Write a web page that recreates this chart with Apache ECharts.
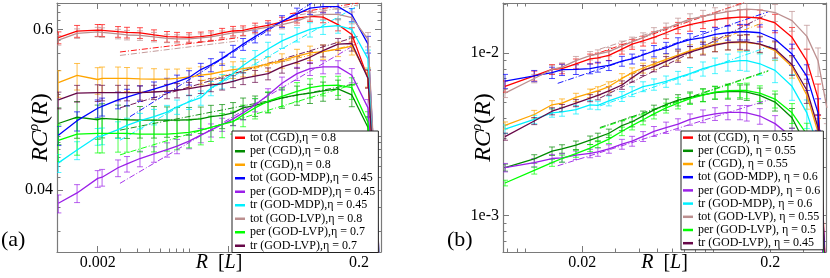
<!DOCTYPE html>
<html><head><meta charset="utf-8">
<script src="https://cdn.jsdelivr.net/npm/echarts@6/dist/echarts.min.js"></script>
<style>html,body{margin:0;padding:0;background:#fff}#c{width:830px;height:278px}</style>
</head><body><div id="c"></div>
<script>
// ---------------- Panel (a) ----------------
const X_A = [0.001,0.00139,0.002,0.00216,0.00286,0.00335,0.00421,0.00539,0.00678,0.00809,0.01,0.0123,0.0147,0.0179,0.0217,0.0259,0.032,0.0402,0.0514,0.067,0.0842,0.106,0.138,0.176,0.234,0.3];
const TOT_CGD_A = [0.523,0.583,0.592,0.591,0.577,0.570,0.566,0.546,0.531,0.528,0.525,0.531,0.542,0.565,0.584,0.589,0.617,0.643,0.681,0.726,0.746,0.737,0.650,0.551,0.263,0.005];
const PER_CGD_A = [0.123,0.137,0.131,0.134,0.132,0.131,0.130,0.130,0.130,0.130,0.131,0.133,0.138,0.141,0.147,0.160,0.167,0.177,0.189,0.199,0.205,0.213,0.220,0.199,0.115,0.005];
const TR_CGD_A  = [0.245,0.277,0.258,0.263,0.263,0.263,0.261,0.260,0.260,0.263,0.269,0.278,0.283,0.295,0.305,0.310,0.319,0.336,0.355,0.383,0.404,0.412,0.431,0.453,0.270,0.005];
const TOT_MDP_A = [0.101,0.129,0.159,0.164,0.183,0.192,0.205,0.219,0.235,0.248,0.267,0.305,0.330,0.368,0.417,0.468,0.531,0.606,0.687,0.780,0.857,0.880,0.880,0.767,0.468,0.005];
const PER_MDP_A = [0.0321,0.0382,0.0488,0.0498,0.0584,0.0624,0.0682,0.0736,0.0793,0.0840,0.0913,0.101,0.110,0.121,0.133,0.147,0.168,0.199,0.242,0.285,0.310,0.319,0.319,0.277,0.160,0.005];
const TR_MDP_A  = [0.0634,0.0787,0.0991,0.100,0.111,0.119,0.129,0.138,0.149,0.163,0.177,0.190,0.223,0.250,0.285,0.327,0.375,0.431,0.494,0.551,0.599,0.626,0.639,0.599,0.365,0.005];
const TOT_LVP_A = [0.500,0.560,0.575,0.570,0.556,0.546,0.542,0.528,0.516,0.512,0.512,0.520,0.528,0.546,0.565,0.575,0.599,0.624,0.650,0.690,0.754,0.773,0.773,0.731,0.508,0.005];
const PER_LVP_A = [0.0924,0.103,0.104,0.104,0.104,0.104,0.103,0.103,0.103,0.104,0.106,0.110,0.115,0.121,0.127,0.142,0.160,0.179,0.194,0.211,0.225,0.233,0.235,0.225,0.125,0.005];
const TR_LVP_A  = [0.183,0.205,0.207,0.207,0.207,0.207,0.207,0.209,0.212,0.215,0.221,0.229,0.236,0.240,0.250,0.263,0.273,0.285,0.319,0.346,0.375,0.419,0.468,0.473,0.263,0.005];
// relative error bars
const E_TOT_CGD_A = [0.10,0.10,0.10,0.10,0.09,0.09,0.09,0.09,0.09,0.08,0.08,0.08,0.08,0.08,0.08,0.08,0.08,0.08,0.08,0.08,0.08,0.09,0.10,0.12,0.15,0];
const E_PER_CGD_A = [0.30,0.30,0.28,0.28,0.27,0.27,0.26,0.26,0.25,0.24,0.23,0.22,0.21,0.20,0.19,0.18,0.17,0.17,0.16,0.16,0.16,0.16,0.16,0.18,0.20,0];
const E_TR_CGD_A  = [0.22,0.22,0.22,0.21,0.21,0.20,0.20,0.19,0.18,0.17,0.16,0.15,0.15,0.14,0.14,0.13,0.13,0.12,0.12,0.12,0.12,0.12,0.12,0.14,0.16,0];
const E_TOT_MDP_A = [0.16,0.16,0.15,0.15,0.14,0.14,0.13,0.13,0.12,0.12,0.12,0.11,0.11,0.11,0.10,0.10,0.10,0.10,0.10,0.10,0.10,0.10,0.10,0.11,0.14,0];
const E_PER_MDP_A = [0.15,0.15,0.14,0.14,0.14,0.13,0.13,0.13,0.12,0.12,0.12,0.12,0.11,0.11,0.11,0.11,0.11,0.11,0.11,0.11,0.11,0.11,0.11,0.12,0.15,0];
const E_TR_MDP_A  = [0.15,0.15,0.14,0.14,0.14,0.13,0.13,0.13,0.12,0.12,0.12,0.12,0.12,0.12,0.12,0.12,0.12,0.12,0.12,0.12,0.12,0.12,0.12,0.13,0.16,0];
const E_TOT_LVP_A = [0.08,0.08,0.08,0.08,0.08,0.08,0.08,0.08,0.07,0.07,0.07,0.07,0.07,0.07,0.07,0.07,0.07,0.07,0.07,0.07,0.07,0.08,0.09,0.10,0.12,0];
const E_PER_LVP_A = [0.30,0.30,0.28,0.28,0.27,0.27,0.26,0.26,0.25,0.24,0.23,0.22,0.21,0.20,0.19,0.18,0.17,0.17,0.16,0.16,0.16,0.16,0.16,0.18,0.20,0];
const E_TR_LVP_A  = [0.14,0.14,0.14,0.13,0.13,0.13,0.12,0.12,0.12,0.12,0.11,0.11,0.11,0.10,0.10,0.10,0.10,0.10,0.10,0.10,0.10,0.10,0.10,0.12,0.15,0];
// power-law fit segments [x0, y0, x1, y1]
const FIT_TOT_CGD_A = [[0.00296,0.410,0.0245,0.523],[0.059,0.780,0.197,0.936]];
const FIT_PER_CGD_A = [[0.00296,0.110,0.195,0.242]];
const FIT_TR_CGD_A  = [[0.0121,0.250,0.195,0.470]];
const FIT_TOT_MDP_A = [[0.00353,0.138,0.0871,0.936]];
const FIT_PER_MDP_A = [[0.00296,0.0449,0.195,0.476]];
const FIT_TR_MDP_A  = [[0.00296,0.0928,0.195,0.890]];
const FIT_TOT_LVP_A = [[0.00296,0.387,0.0245,0.496],[0.0704,0.767,0.197,0.905]];
const FIT_PER_LVP_A = [[0.00296,0.0725,0.195,0.242]];
const FIT_TR_LVP_A  = [[0.00296,0.160,0.195,0.533]];
const NAMES_A = ['tot (CGD),η = 0.8','per (CGD),η = 0.8','tr (CGD),η = 0.8','tot (GOD-MDP),η = 0.45','per (GOD-MDP),η = 0.45','tr (GOD-MDP),η = 0.45','tot (GOD-LVP),η = 0.8','per (GOD-LVP),η = 0.7','tr (GOD-LVP),η = 0.7'];
const X_RANGE_A = [0.000976, 0.2941];
const Y_RANGE_A = [0.01413, 0.9355];
const X_LABELS_A = ['0.002','0.2'];
const Y_LABELS_A = ['0.04','0.6'];
const X_MAJOR_A = [0.002,0.02,0.2];
const X_MINOR_A = [0.003,0.004,0.005,0.006,0.007,0.008,0.009,0.01,0.03,0.04,0.05,0.06,0.07,0.08,0.09,0.1];
const Y_MAJOR_A = [0.04,0.6];
const Y_MINOR_A = [0.02,0.03,0.05,0.06,0.07,0.08,0.09,0.1,0.2,0.3,0.4,0.5,0.7,0.8,0.9];

// ---------------- Panel (b) ----------------
const X_B = [0.00776,0.0111,0.0138,0.0156,0.0185,0.022,0.0242,0.0277,0.0325,0.0368,0.0421,0.0481,0.0558,0.0646,0.0748,0.0877,0.1016,0.119,0.138,0.150,0.176,0.212,0.261,0.313,0.359,0.4];
const TOT_CGD_B = [0.00626,0.00726,0.00796,0.00804,0.00862,0.00924,0.00937,0.00970,0.01062,0.01138,0.01191,0.01254,0.01338,0.01435,0.01502,0.01559,0.0161,0.01649,0.01672,0.01672,0.01649,0.01538,0.01254,0.00899,0.0053,0.0003];
const PER_CGD_B = [0.00198,0.00224,0.0025,0.00258,0.00272,0.00292,0.00304,0.00322,0.00359,0.00379,0.00412,0.00448,0.00484,0.00515,0.00535,0.00555,0.00572,0.0058,0.0058,0.00576,0.0055,0.00501,0.00401,0.00265,0.00132,0.0003];
const TR_CGD_B  = [0.0036,0.0042,0.00482,0.00494,0.00535,0.00568,0.00587,0.00624,0.0070,0.0076,0.00812,0.00862,0.00918,0.00976,0.01037,0.01087,0.01138,0.01165,0.01165,0.01165,0.01138,0.01037,0.00827,0.00552,0.00326,0.0003];
const TOT_MDP_B = [0.00674,0.00726,0.0076,0.00793,0.00796,0.00804,0.00823,0.00842,0.00895,0.00924,0.00976,0.01033,0.01081,0.01154,0.01212,0.01249,0.01307,0.01338,0.01357,0.01357,0.01338,0.0122,0.0099,0.0072,0.0043,0.0003];
const PER_MDP_B = [0.00198,0.00212,0.00225,0.00227,0.00236,0.00242,0.00247,0.00258,0.00276,0.00288,0.00308,0.00331,0.00349,0.00366,0.00392,0.00411,0.00424,0.00433,0.00433,0.0043,0.00411,0.00369,0.00304,0.00215,0.00132,0.0003];
const TR_MDP_B  = [0.00341,0.00392,0.0043,0.00436,0.0045,0.00482,0.00478,0.0051,0.00543,0.00582,0.00624,0.00644,0.00671,0.0071,0.0075,0.00804,0.00842,0.00883,0.00902,0.00902,0.00862,0.00785,0.00626,0.0043,0.00265,0.0003];
const TOT_LVP_B = [0.00568,0.0070,0.00796,0.00823,0.00902,0.00967,0.0099,0.01023,0.01111,0.01175,0.01249,0.01344,0.01421,0.01523,0.01621,0.01686,0.0175,0.01807,0.0185,0.01868,0.0185,0.01782,0.01588,0.01271,0.00899,0.00461];
const PER_LVP_B = [0.00159,0.0019,0.00212,0.00225,0.00241,0.00261,0.00276,0.00296,0.00331,0.00359,0.0039,0.00424,0.00461,0.00494,0.00526,0.00552,0.00576,0.00588,0.00592,0.0059,0.00568,0.00523,0.0043,0.00317,0.002,0.0003];
const TR_LVP_B  = [0.00307,0.00383,0.0044,0.00461,0.00494,0.0053,0.0055,0.00587,0.00638,0.00707,0.00785,0.00827,0.00892,0.00956,0.01018,0.01072,0.01122,0.01165,0.01175,0.01175,0.01138,0.01062,0.0085,0.00592,0.00349,0.0003];
const E_TOT_CGD_B = [0.08,0.07,0.07,0.07,0.07,0.07,0.07,0.07,0.07,0.07,0.07,0.08,0.08,0.08,0.09,0.09,0.10,0.10,0.11,0.11,0.12,0.13,0.15,0.18,0.22,0];
const E_PER_CGD_B = [0.05,0.06,0.06,0.06,0.06,0.06,0.06,0.06,0.07,0.07,0.07,0.07,0.08,0.08,0.08,0.09,0.09,0.10,0.10,0.11,0.11,0.12,0.14,0.17,0.20,0];
const E_TR_CGD_B  = [0.05,0.06,0.06,0.06,0.06,0.06,0.06,0.07,0.07,0.07,0.07,0.08,0.08,0.08,0.09,0.09,0.10,0.10,0.11,0.11,0.12,0.13,0.15,0.18,0.22,0];
const E_TOT_MDP_B = [0.10,0.08,0.08,0.08,0.07,0.07,0.07,0.07,0.07,0.07,0.07,0.08,0.08,0.08,0.09,0.09,0.10,0.10,0.11,0.11,0.12,0.13,0.15,0.18,0.22,0];
const E_PER_MDP_B = [0.06,0.06,0.06,0.06,0.06,0.06,0.06,0.06,0.07,0.07,0.07,0.07,0.08,0.08,0.08,0.09,0.09,0.10,0.10,0.11,0.11,0.12,0.14,0.17,0.20,0];
const E_TR_MDP_B  = [0.06,0.06,0.06,0.06,0.06,0.06,0.06,0.07,0.07,0.07,0.07,0.08,0.08,0.09,0.09,0.10,0.11,0.12,0.13,0.14,0.15,0.16,0.18,0.20,0.24,0];
const E_TOT_LVP_B = [0.06,0.06,0.06,0.06,0.06,0.06,0.06,0.06,0.07,0.07,0.07,0.07,0.08,0.08,0.08,0.09,0.09,0.10,0.10,0.11,0.11,0.12,0.14,0.17,0.20,0.2];
const E_PER_LVP_B = [0.04,0.05,0.05,0.05,0.05,0.05,0.05,0.06,0.06,0.06,0.07,0.07,0.07,0.08,0.08,0.09,0.09,0.10,0.10,0.11,0.11,0.12,0.14,0.17,0.20,0];
const E_TR_LVP_B  = [0.05,0.05,0.05,0.05,0.05,0.05,0.06,0.06,0.06,0.06,0.07,0.07,0.07,0.08,0.08,0.09,0.09,0.10,0.10,0.11,0.11,0.12,0.14,0.17,0.20,0];
const FIT_TOT_CGD_B = [[0.022,0.00963,0.147,0.0207]];
const FIT_PER_CGD_B = [[0.0248,0.00349,0.195,0.00782]];
const FIT_TR_CGD_B  = [[0.022,0.00592,0.183,0.01544]];
const FIT_TOT_MDP_B = [[0.0148,0.00653,0.195,0.018]];
const FIT_PER_MDP_B = [[0.0148,0.00203,0.195,0.00515]];
const FIT_TR_MDP_B  = [[0.0248,0.00474,0.2,0.01107]];
const FIT_TOT_LVP_B = [[0.0248,0.01062,0.147,0.0204]];
const FIT_PER_LVP_B = [[0.0248,0.00345,0.195,0.00775]];
const FIT_TR_LVP_B  = [[0.0248,0.0053,0.191,0.01726]];
const NAMES_B = ['tot (CGD), η = 0.55','per (CGD), η = 0.55','tr (CGD), η = 0.55','tot (GOD-MDP), η = 0.6','per (GOD-MDP), η = 0.6','tr (GOD-MDP), η = 0.6','tot (GOD-LVP), η = 0.55','per (GOD-LVP), η = 0.5','tr (GOD-LVP), η = 0.45'];
const X_RANGE_B = [0.00757, 0.3957];
const Y_RANGE_B = [0.000598, 0.0204];
const X_LABELS_B = ['0.02','0.2'];
const Y_LABELS_B = ['1e-3','1e-2'];
const X_MAJOR_B = [0.02,0.2];
const X_MINOR_B = [0.008,0.009,0.01,0.03,0.04,0.05,0.06,0.07,0.08,0.09,0.1,0.3];
const Y_MAJOR_B = [0.001,0.01];
const Y_MINOR_B = [0.0007,0.0008,0.0009,0.002,0.003,0.004,0.005,0.006,0.007,0.008,0.009,0.02];

const COLORS = ['#ff0000','#008b00','#ffa500','#0000ff','#9b1fe8','#00f0ff','#bc8f8f','#00ff00','#670748'];

// ---------------- build ----------------
const L = Math.log10;
const FONT = 'Liberation Serif';
const AX = '#7a7a7a';
const series = [], xAxes = [], yAxes = [];

function labelFmt(labels){
  return function(v){ for (const s of labels){ if (Math.abs(L(parseFloat(s)) - v) < 1e-6) return '{t|' + s + '}'; } return ''; };
}
const TICK_RICH = {t:{fontFamily:FONT, fontSize:16, color:'#000'}};
function makeAxes(g, xr, yr, xl, yl, xM, xm, yM, ym, yNameGap){
  const base = {gridIndex:g, type:'value', splitLine:{show:false}};
  const xmin=L(xr[0]), xmax=L(xr[1]), ymin=L(yr[0]), ymax=L(yr[1]);
  const xi = xAxes.length, yi = yAxes.length;
  xAxes.push(Object.assign({}, base, {position:'bottom', min:xmin, max:xmax,
    axisLine:{show:true, onZero:false, lineStyle:{color:AX, width:1.2}},
    axisTick:{show:true, inside:true, length:6, customValues:xM.map(L), lineStyle:{color:AX}},
    axisLabel:{show:true, customValues:xl.map(s=>L(parseFloat(s))), formatter:labelFmt(xl), margin:3, fontFamily:FONT, fontSize:16, color:'#000', rich:TICK_RICH},
    name:'{i|R}{n|  [}{i|L}{n|]}', nameLocation:'middle', nameGap:1, nameMoveOverlap:false,
    nameTextStyle:{color:'#000', fontFamily:FONT, fontSize:20, rich:{i:{fontStyle:'italic', fontFamily:FONT, fontSize:20}, n:{fontFamily:FONT, fontSize:20}}}}));
  xAxes.push(Object.assign({}, base, {position:'bottom', min:xmin, max:xmax,
    axisLine:{show:false, onZero:false}, axisTick:{show:true, inside:true, length:3.5, customValues:xm.map(L), lineStyle:{color:AX}}, axisLabel:{show:false}}));
  xAxes.push(Object.assign({}, base, {position:'top', min:xmin, max:xmax,
    axisLine:{show:true, onZero:false, lineStyle:{color:AX, width:1.2}}, axisTick:{show:true, inside:true, length:6, customValues:xM.map(L), lineStyle:{color:AX}}, axisLabel:{show:false}}));
  xAxes.push(Object.assign({}, base, {position:'top', min:xmin, max:xmax,
    axisLine:{show:false, onZero:false}, axisTick:{show:true, inside:true, length:3.5, customValues:xm.map(L), lineStyle:{color:AX}}, axisLabel:{show:false}}));
  yAxes.push(Object.assign({}, base, {position:'left', min:ymin, max:ymax,
    axisLine:{show:true, onZero:false, lineStyle:{color:AX, width:1.2}},
    axisTick:{show:true, inside:true, length:6, customValues:yM.map(L), lineStyle:{color:AX}},
    axisLabel:{show:true, customValues:yl.map(s=>L(parseFloat(s))), formatter:labelFmt(yl), margin:4, fontFamily:FONT, fontSize:16, color:'#000', rich:TICK_RICH},
    name:'{i|RC}{s|ρ}{n|(}{i|R}{n|)}', nameLocation:'middle', nameGap:yNameGap, nameRotate:90, nameMoveOverlap:false,
    nameTextStyle:{color:'#000', fontFamily:FONT, fontSize:24, rich:{i:{fontStyle:'italic', fontFamily:FONT, fontSize:24, lineHeight:28}, n:{fontFamily:FONT, fontSize:24, lineHeight:28}, s:{fontStyle:'italic', fontFamily:FONT, fontSize:15, lineHeight:28, verticalAlign:'top'}}}}));
  yAxes.push(Object.assign({}, base, {position:'left', min:ymin, max:ymax,
    axisLine:{show:false, onZero:false}, axisTick:{show:true, inside:true, length:3.5, customValues:ym.map(L), lineStyle:{color:AX}}, axisLabel:{show:false}}));
  yAxes.push(Object.assign({}, base, {position:'right', min:ymin, max:ymax,
    axisLine:{show:true, onZero:false, lineStyle:{color:AX, width:1.2}}, axisTick:{show:true, inside:true, length:6, customValues:yM.map(L), lineStyle:{color:AX}}, axisLabel:{show:false}}));
  yAxes.push(Object.assign({}, base, {position:'right', min:ymin, max:ymax,
    axisLine:{show:false, onZero:false}, axisTick:{show:true, inside:true, length:3.5, customValues:ym.map(L), lineStyle:{color:AX}}, axisLabel:{show:false}}));
  return {xi, yi};
}

function errRender(color){
  return function(params, api){
    const x = api.value(0), lo = api.value(1), hi = api.value(2);
    const p1 = api.coord([x, hi]), p2 = api.coord([x, lo]);
    const w = 3, st = {stroke:color, lineWidth:1, opacity:0.7};
    return {type:'group', children:[
      {type:'line', shape:{x1:p1[0], y1:p1[1], x2:p2[0], y2:p2[1]}, style:st},
      {type:'line', shape:{x1:p1[0]-w, y1:p1[1], x2:p1[0]+w, y2:p1[1]}, style:st},
      {type:'line', shape:{x1:p2[0]-w, y1:p2[1], x2:p2[0]+w, y2:p2[1]}, style:st}
    ]};
  };
}

function addPanel(ax, xs, names, ys, errs, fits){
  ys.forEach((y, k) => {
    const c = COLORS[k];
    fits[k].forEach(f => series.push({type:'line', xAxisIndex:ax.xi, yAxisIndex:ax.yi, silent:true, symbol:'none', z:2,
      data:[[L(f[0]), L(f[1])],[L(f[2]), L(f[3])]], lineStyle:{color:c, width:1, type:[6,2,1,2], opacity:0.9}}));
    const eb = [];
    xs.forEach((x, j) => { const e = errs[k][j]; if (e > 0) eb.push([L(x), L(y[j]*(1-e)), L(y[j]*(1+e))]); });
    series.push({type:'custom', xAxisIndex:ax.xi, yAxisIndex:ax.yi, silent:true, clip:true, z:2,
      encode:{x:0, y:[1,2]}, data:eb, renderItem:errRender(c)});
    series.push({type:'line', name:names[k], xAxisIndex:ax.xi, yAxisIndex:ax.yi, silent:true, symbol:'none', showSymbol:false, z:3, clip:true,
      data:xs.map((x, j) => [L(x), L(y[j])]), lineStyle:{color:c, width:1.3}, itemStyle:{color:c}});
  });
}

const axA = makeAxes(0, X_RANGE_A, Y_RANGE_A, X_LABELS_A, Y_LABELS_A, X_MAJOR_A, X_MINOR_A, Y_MAJOR_A, Y_MINOR_A, 2);
const axB = makeAxes(1, X_RANGE_B, Y_RANGE_B, X_LABELS_B, Y_LABELS_B, X_MAJOR_B, X_MINOR_B, Y_MAJOR_B, Y_MINOR_B, 5);
addPanel(axA, X_A, NAMES_A,
  [TOT_CGD_A, PER_CGD_A, TR_CGD_A, TOT_MDP_A, PER_MDP_A, TR_MDP_A, TOT_LVP_A, PER_LVP_A, TR_LVP_A],
  [E_TOT_CGD_A, E_PER_CGD_A, E_TR_CGD_A, E_TOT_MDP_A, E_PER_MDP_A, E_TR_MDP_A, E_TOT_LVP_A, E_PER_LVP_A, E_TR_LVP_A],
  [FIT_TOT_CGD_A, FIT_PER_CGD_A, FIT_TR_CGD_A, FIT_TOT_MDP_A, FIT_PER_MDP_A, FIT_TR_MDP_A, FIT_TOT_LVP_A, FIT_PER_LVP_A, FIT_TR_LVP_A]);
addPanel(axB, X_B, NAMES_B,
  [TOT_CGD_B, PER_CGD_B, TR_CGD_B, TOT_MDP_B, PER_MDP_B, TR_MDP_B, TOT_LVP_B, PER_LVP_B, TR_LVP_B],
  [E_TOT_CGD_B, E_PER_CGD_B, E_TR_CGD_B, E_TOT_MDP_B, E_PER_MDP_B, E_TR_MDP_B, E_TOT_LVP_B, E_PER_LVP_B, E_TR_LVP_B],
  [FIT_TOT_CGD_B, FIT_PER_CGD_B, FIT_TR_CGD_B, FIT_TOT_MDP_B, FIT_PER_MDP_B, FIT_TR_MDP_B, FIT_TOT_LVP_B, FIT_PER_LVP_B, FIT_TR_LVP_B]);

const legendBase = {orient:'vertical', itemGap:0, itemWidth:10, itemHeight:2.5, icon:'rect', selectedMode:false,
  borderColor:'#222', borderWidth:1, backgroundColor:'#fff', borderRadius:0,
  textStyle:{fontFamily:FONT, fontSize:12, color:'#000', lineHeight:13.5}};
const chart = echarts.init(document.getElementById('c'), null, {renderer:'canvas'});
chart.setOption({
  animation:false,
  backgroundColor:'#fff',
  textStyle:{fontFamily:FONT},
  grid:[{left:57, top:3, width:324, height:254}, {left:503, top:3, width:323, height:254}],
  xAxis:xAxes, yAxis:yAxes,
  legend:[Object.assign({}, legendBase, {data:NAMES_A, left:232, top:131, padding:[0,3,0,3]}),
          Object.assign({}, legendBase, {data:NAMES_B, left:681, top:131, padding:[0,3,0,2], textStyle:Object.assign({}, legendBase.textStyle, {lineHeight:13.2})})],
  graphic:[
    {type:'text', left:1, top:229, style:{text:'(a)', font:'22px "Liberation Serif"', fill:'#000'}},
    {type:'text', left:447, top:229, style:{text:'(b)', font:'22px "Liberation Serif"', fill:'#000'}}
  ],
  series:series
});
</script></body></html>
